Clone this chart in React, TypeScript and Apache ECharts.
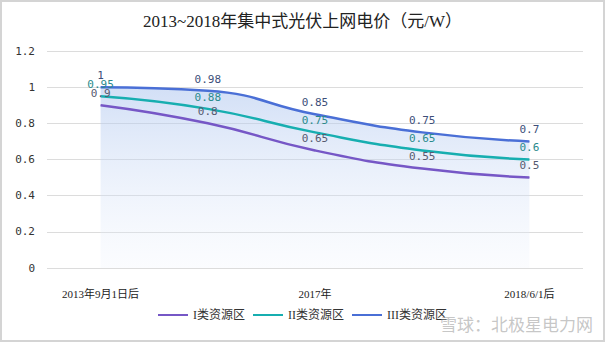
import React, { useEffect, useRef } from "react";
import * as echarts from "echarts";

const categories = ["2013年9月1日后", "2016年", "2017年", "2018年", "2018/6/1后"];
const seriesNames = ["I类资源区", "II类资源区", "III类资源区"];
const typeI = [0.9, 0.8, 0.65, 0.55, 0.5];
const typeII = [0.95, 0.88, 0.75, 0.65, 0.6];
const typeIII = [1, 0.98, 0.85, 0.75, 0.7];
const yTicks = [0, 0.2, 0.4, 0.6, 0.8, 1, 1.2];

export default function App() {
  const ref = useRef<HTMLDivElement>(null);
  useEffect(() => {
    document.body.style.margin = "0";
    const chart = echarts.init(ref.current!, undefined, { renderer: "svg" });
    const mono = "DejaVu Sans Mono, monospace";
    const serif = "Liberation Serif, DejaVu Serif, Noto Sans CJK SC, serif";
    const mk = (name: string, data: number[], color: string, labelColor: string, area: boolean) => ({
      name,
      type: "line",
      data,
      smooth: true,
      symbol: "circle",
      symbolSize: 0.5,
      showSymbol: true,
      lineStyle: { color, width: 2.5 },
      itemStyle: { color },
      z: area ? 1 : 3,
      label: {
        show: true,
        position: "top",
        distance: 6,
        color: labelColor,
        fontFamily: mono,
        fontSize: 11,
      },
      areaStyle: area
        ? {
            color: new echarts.graphic.LinearGradient(0, 0, 0, 1, [
              { offset: 0, color: "rgba(170,195,238,0.75)" },
              { offset: 1, color: "rgba(235,241,252,0.3)" },
            ]),
          }
        : undefined,
    });
    chart.setOption({
      animation: false,
      backgroundColor: "#fff",
      title: {
        text: "2013~2018年集中式光伏上网电价（元/W）",
        left: "center",
        top: 6,
        textStyle: { fontFamily: serif, fontSize: 17, fontWeight: "normal", color: "#222" },
      },
      grid: { left: 45, right: 20, top: 49, bottom: 72 },
      legend: {
        bottom: 14,
        left: "center",
        icon: "path://M0,0 L30,0 L30,2 L0,2 Z",
        itemWidth: 30,
        itemHeight: 2,
        itemGap: 8,
        textStyle: { fontFamily: serif, fontSize: 12, color: "#333" },
        data: seriesNames,
      },
      xAxis: {
        type: "category",
        data: categories,
        boundaryGap: true,
        axisLine: { show: false },
        axisTick: { show: false },
        axisLabel: { interval: 1, color: "#222", fontFamily: serif, fontSize: 11, margin: 20 },
      },
      yAxis: {
        type: "value",
        min: yTicks[0],
        max: yTicks[yTicks.length - 1],
        interval: 0.2,
        axisLine: { show: false },
        axisTick: { show: false },
        splitLine: { lineStyle: { color: "#dcdcdc", width: 1 } },
        axisLabel: {
          color: "#333",
          fontFamily: mono,
          fontSize: 11,
          margin: 12,
          formatter: (v: number) => String(Math.round(v * 10) / 10),
        },
      },
      series: [
        mk(seriesNames[2], typeIII, "#4a6fd6", "#3d4f7a", true),
        mk(seriesNames[1], typeII, "#17aeb0", "#2a8a8c", false),
        mk(seriesNames[0], typeI, "#7657c6", "#555a70", false),
      ],
      graphic: [
        {
          type: "text",
          right: 10,
          bottom: 8,
          z: 100,
          style: {
            text: "雪球：北极星电力网",
            fill: "rgba(150,150,150,0.55)",
            font: "17px Noto Sans CJK SC, sans-serif",
          },
        },
      ],
    });
    return () => chart.dispose();
  }, []);
  return (
    <div
      style={{
        position: "absolute",
        left: 0,
        top: 0,
        width: 605,
        height: 342,
        boxSizing: "border-box",
        border: "2px solid #d4d4d4",
        background: "#fff",
      }}
    >
      <div ref={ref} style={{ width: 601, height: 338 }} />
    </div>
  );
}
